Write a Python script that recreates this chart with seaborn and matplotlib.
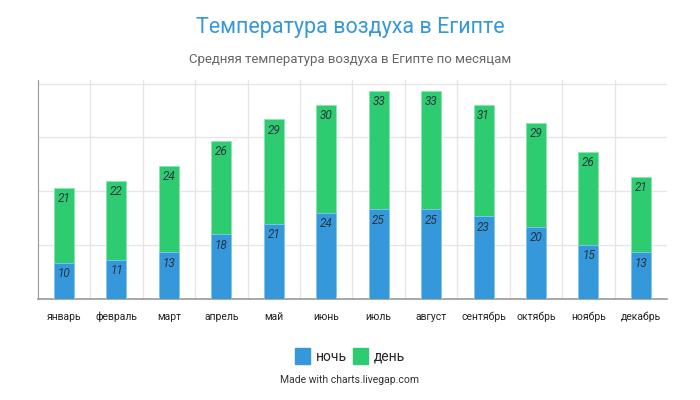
import numpy as np
import matplotlib.pyplot as plt
import seaborn as sns

months = ["январь", "февраль", "март", "апрель", "май", "июнь",
          "июль", "август", "сентябрь", "октябрь", "ноябрь", "декабрь"]
night = [10, 11, 13, 18, 21, 24, 25, 25, 23, 20, 15, 13]
day = [21, 22, 24, 26, 29, 30, 33, 33, 31, 29, 26, 21]

BLUE = "#3498db"
GREEN = "#2ecc71"

sns.set_style("white")
plt.rcParams['font.family'] = ['Roboto', 'DejaVu Sans']

fig = plt.figure(figsize=(7, 4), dpi=100)
ax = fig.add_axes([0.054, 0.2525, 0.899, 0.5475])

# зелёный столбец = ночь + день, синий поверх него
totals = [n + d for n, d in zip(night, day)]
sns.barplot(x=months, y=totals, color=GREEN, saturation=1, width=0.38,
            edgecolor="#8ee6b0", linewidth=0.6, ax=ax, zorder=3)
sns.barplot(x=months, y=night, color=BLUE, saturation=1, width=0.38,
            edgecolor="#8cc6ee", linewidth=0.6, ax=ax, zorder=4)

for i in range(len(months)):
    ax.text(i, night[i] - 3, str(night[i]), ha="center", va="center",
            fontsize=8.5, style="italic", color="#2a3440", zorder=5)
    ax.text(i, totals[i] - 3, str(day[i]), ha="center", va="center",
            fontsize=8.5, style="italic", color="#2a3440", zorder=5)

ax.set_xlim(-0.5, len(months) - 0.5)
ax.set_ylim(0, 61)
ax.set_yticks([0, 15, 30, 45, 60])
ax.set_yticks(np.arange(0, 61, 5), minor=True)
ax.set_yticklabels([])
ax.set_xticks(np.arange(0.5, len(months) - 0.5), minor=True)
ax.grid(True, axis="y", which="major", color="#e6e6e6", linewidth=1, zorder=0)
ax.grid(True, axis="x", which="minor", color="#e6e6e6", linewidth=1, zorder=0)
ax.tick_params(axis="x", which="major", length=0, labelsize=7.5, pad=9, labelcolor="#222222")
ax.tick_params(axis="x", which="minor", length=5, color="#e6e6e6")
ax.tick_params(axis="y", which="both", length=4, color="#dddddd")
ax.set_xlabel("")
ax.set_ylabel("")
sns.despine(ax=ax, top=True, right=True)
ax.spines["left"].set_color("#999999")
ax.spines["bottom"].set_color("#999999")
ax.spines["bottom"].set_linewidth(1.2)

fig.text(0.5, 0.932, "Температура воздуха в Египте", ha="center", va="center",
         fontsize=15.5, color=BLUE)
fig.text(0.5, 0.85, "Средняя температура воздуха в Египте по месяцам", ha="center",
         va="center", fontsize=9.5, color="#666666")

handles = [plt.Rectangle((0, 0), 1, 1, color=BLUE), plt.Rectangle((0, 0), 1, 1, color=GREEN)]
fig.legend(handles, ["ночь", "день"], loc="center", bbox_to_anchor=(0.5, 0.11),
           ncol=2, frameon=False, fontsize=10, handlelength=1.1, handleheight=1.4,
           handletextpad=0.4, columnspacing=0.4)
fig.text(0.5, 0.05, "Made with charts.livegap.com", ha="center", va="center",
         fontsize=7.5, color="#333333")

fig.savefig("out.png", dpi=100)
